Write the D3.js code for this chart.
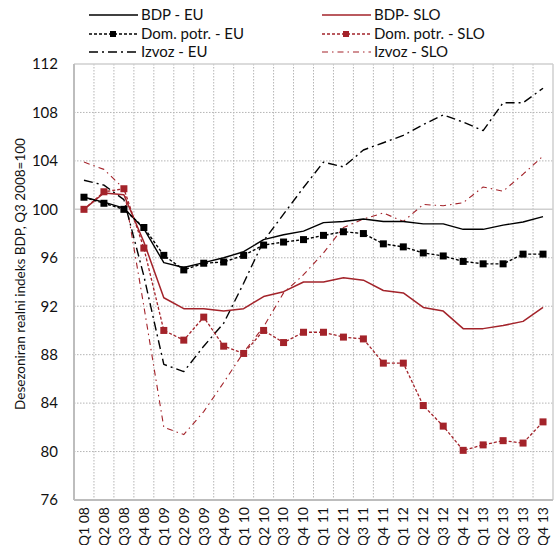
<!DOCTYPE html>
<html><head><meta charset="utf-8">
<script src="https://cdn.jsdelivr.net/npm/d3@7"></script>
<style>body{margin:0;background:#fff}svg{display:block}text{font-family:Lato,"Open Sans",sans-serif;fill:#111}</style>
</head><body>
<svg id="c" width="557" height="545"></svg>
<script>
const categories = ["Q1 08","Q2 08","Q3 08","Q4 08","Q1 09","Q2 09","Q3 09","Q4 09","Q1 10","Q2 10","Q3 10","Q4 10","Q1 11","Q2 11","Q3 11","Q4 11","Q1 12","Q2 12","Q3 12","Q4 12","Q1 13","Q2 13","Q3 13","Q4 13"];
const yTicks = [76,80,84,88,92,96,100,104,108,112];
const bdpEU   = [101.0,100.6,100.1,98.4,95.6,95.2,95.6,96.0,96.5,97.5,97.9,98.2,98.9,99.0,99.2,99.0,99.0,98.8,98.8,98.35,98.35,98.7,98.95,99.4];
const domEU   = [101.0,100.5,100.0,98.5,96.2,95.0,95.55,95.65,96.2,97.05,97.3,97.5,97.85,98.15,98.0,97.15,96.9,96.4,96.15,95.7,95.5,95.5,96.3,96.3];
const izvEU   = [102.4,102.0,100.8,94.5,87.2,86.6,88.7,90.6,93.9,97.4,99.6,101.8,103.9,103.5,104.9,105.5,106.1,107.0,107.8,107.2,106.5,108.8,108.8,110.0];
const bdpSLO  = [100.0,101.35,101.2,97.3,92.7,91.8,91.8,91.6,91.8,92.8,93.2,94.0,94.0,94.35,94.15,93.3,93.1,91.9,91.6,90.15,90.15,90.4,90.75,91.9];
const domSLO  = [100.0,101.45,101.7,96.8,90.0,89.2,91.1,88.7,88.1,90.0,89.0,89.85,89.85,89.45,89.3,87.3,87.3,83.8,82.1,80.1,80.55,80.9,80.7,82.45];
const izvSLO  = [103.9,103.3,101.7,92.0,82.0,81.4,83.3,85.7,88.2,90.3,93.1,94.6,96.4,98.5,99.2,99.7,99.0,100.4,100.3,100.55,101.85,101.5,102.9,104.4];
const seriesNames = ["BDP - EU","BDP- SLO","Dom. potr. - EU","Dom. potr. - SLO","Izvoz - EU","Izvoz - SLO"];
const yTitle = "Desezoniran realni indeks BDP, Q3 2008=100";

const RED = "#a3232a";
const styles = {
  "BDP - EU":        {data:bdpEU,  color:"#000", w:1.4, dash:null, marker:false},
  "BDP- SLO":        {data:bdpSLO, color:RED,    w:1.5, dash:null, marker:false},
  "Dom. potr. - EU": {data:domEU,  color:"#000", w:1.4, dash:"3,2", marker:true},
  "Dom. potr. - SLO":{data:domSLO, color:RED,    w:1.3, dash:"3,2", marker:true},
  "Izvoz - EU":      {data:izvEU,  color:"#000", w:1.4, dash:"9,4,2,4", marker:false},
  "Izvoz - SLO":     {data:izvSLO, color:RED,    w:1.1, dash:"6,4,1.5,4", marker:false}
};

const svg = d3.select("#c");
const L=74, R=553, T=64, B=500;
const x = d3.scaleBand().domain(categories).range([L,R]);
const y = d3.scaleLinear().domain([76,112]).range([B,T]);
const cx = d => x(d) + x.bandwidth()/2;

// grid
const g = svg.append("g");
categories.slice(1).forEach(c => {
  g.append("line").attr("x1",x(c)).attr("x2",x(c)).attr("y1",T).attr("y2",B)
   .attr("stroke","#b5b5b5").attr("stroke-width",1).attr("stroke-dasharray","1.5,1.5");
});
yTicks.forEach(t => {
  if (t===76 || t===112) return;
  g.append("line").attr("x1",L).attr("x2",R).attr("y1",y(t)).attr("y2",y(t))
   .attr("stroke", t===100 ? "#cfcfcf" : "#b5b5b5")
   .attr("stroke-width", t===100 ? 1.5 : 1)
   .attr("stroke-dasharray", t===100 ? null : "1.5,1.5");
});
// border
g.append("line").attr("x1",L).attr("x2",R).attr("y1",T).attr("y2",T).attr("stroke","#cfcfcf").attr("stroke-width",1.5);
g.append("line").attr("x1",R).attr("x2",R).attr("y1",T).attr("y2",B).attr("stroke","#cfcfcf").attr("stroke-width",1.5);
g.append("line").attr("x1",L).attr("x2",R).attr("y1",B).attr("y2",B).attr("stroke","#bdbdbd").attr("stroke-width",2);
g.append("line").attr("x1",L).attr("x2",L).attr("y1",T).attr("y2",B).attr("stroke","#bdbdbd").attr("stroke-width",2);

// y axis labels
const yAxis = d3.axisLeft(y).tickValues(yTicks).tickSize(0).tickPadding(16);
const ya = svg.append("g").attr("transform",`translate(${L},0)`).call(yAxis);
ya.select(".domain").remove();
ya.selectAll("text").style("font-size","15px").style("font-family","Lato").attr("fill","#111");

// x axis labels
const xAxis = d3.axisBottom(x).tickSize(0).tickPadding(0);
const xa = svg.append("g").attr("transform",`translate(0,${B})`).call(xAxis);
xa.select(".domain").remove();
xa.selectAll("text").style("font-size","14px").style("font-family","Lato").attr("fill","#111")
  .attr("text-anchor","end").attr("dy","0.35em")
  .attr("transform","translate(0,7) rotate(-90)").attr("x",0).attr("y",0);

// y title
svg.append("text").attr("transform",`translate(20,274) rotate(-90)`)
  .attr("text-anchor","middle").attr("dy","0.35em").style("font-size","13.5px").text(yTitle);

// lines
const line = d3.line().x((d,i)=>cx(categories[i])).y(d=>y(d));
const order = ["Izvoz - SLO","Izvoz - EU","BDP- SLO","BDP - EU","Dom. potr. - SLO","Dom. potr. - EU"];
order.forEach(n => {
  const s = styles[n];
  svg.append("path").datum(s.data).attr("d",line).attr("fill","none")
    .attr("stroke",s.color).attr("stroke-width",s.w).attr("stroke-dasharray",s.dash)
    .attr("stroke-linejoin","round");
  if (s.marker) {
    svg.selectAll(null).data(s.data).enter().append("rect")
      .attr("x",(d,i)=>cx(categories[i])-3.5).attr("y",d=>y(d)-3.5)
      .attr("width",7).attr("height",7).attr("fill",s.color);
  }
});

// legend
const legPos = [[89,15],[322,15],[89,34],[322,34],[89,52],[322,52]];
seriesNames.forEach((n,i) => {
  const s = styles[n]; const [lx,ly] = legPos[i];
  svg.append("line").attr("x1",lx).attr("x2",lx+49).attr("y1",ly).attr("y2",ly)
    .attr("stroke",s.color).attr("stroke-width",s.w).attr("stroke-dasharray",s.dash);
  if (s.marker) svg.append("rect").attr("x",lx+21).attr("y",ly-3).attr("width",6).attr("height",6).attr("fill",s.color);
  svg.append("text").attr("x",lx+52).attr("y",ly).attr("dy","0.35em").style("font-size","15px").text(n);
});
</script>
</body></html>
